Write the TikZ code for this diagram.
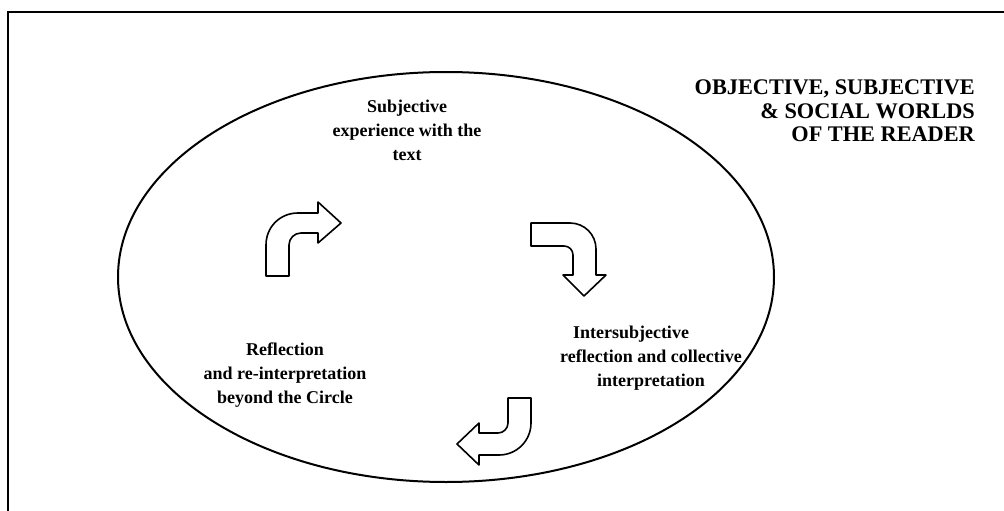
\documentclass[tikz,border=0pt]{standalone}
\usepackage{fontspec}
\setmainfont{Liberation Serif}
\begin{document}
\begin{tikzpicture}[x=1pt,y=-1pt,
  blockarrow/.style={draw=black,line width=1.6pt,fill=white,line join=round},
  lbl/.style={font=\bfseries\fontsize{18}{24}\selectfont,align=center,inner sep=0pt},
  ttl/.style={font=\bfseries\fontsize{22.3}{23.5}\selectfont,align=right,inner sep=0pt}]
\useasboundingbox (0,0) rectangle (1004,511);
% frame (only top and left visible)
\draw[line width=2.6pt] (8,511) -- (8,12) -- (1004,12);
% ellipse
\draw[line width=2pt] (446,277) ellipse [x radius=328pt, y radius=205pt];
% arrow 1 (up then right)
\draw[blockarrow] (266,276) -- (266,245) .. controls (266,227) and (280,213) .. (298,213)
  -- (318,213) -- (318,202) -- (341,223) -- (318,243) -- (318,233) -- (301,233)
  .. controls (294.4,233) and (289,238.4) .. (289,245) -- (289,276) -- cycle;
% arrow 2 (right then down)
\draw[blockarrow] (531,223) -- (570,223) .. controls (584.4,223) and (596,234.6) .. (596,249)
  -- (596,275) -- (606,275) -- (584,296) -- (563,275) -- (573,275) -- (573,255)
  .. controls (573,250) and (569,246) .. (564,246) -- (531,246) -- cycle;
% arrow 3 (down then left)
\draw[blockarrow] (508,398) -- (508,423) .. controls (508,428.5) and (503.5,433) .. (498,433)
  -- (479,433) -- (479,423) -- (457,444) -- (479,465) -- (479,455) -- (499,455)
  .. controls (516.7,455) and (531,440.7) .. (531,423) -- (531,398) -- cycle;
% texts
\node[ttl,anchor=north east] (title) at (975,80) {OBJECTIVE, SUBJECTIVE\\\& SOCIAL WORLDS\\OF THE READER};
\node[lbl] (subj) at (407,130) {Subjective\\experience with the\\text};
\node[lbl] (refl) at (285,375) {Reflection\\and re-interpretation\\beyond the Circle};
\node[lbl] (inter) at (651,358) {Intersubjective\hspace*{40pt}\\reflection and collective\\interpretation};
\end{tikzpicture}
\end{document}
